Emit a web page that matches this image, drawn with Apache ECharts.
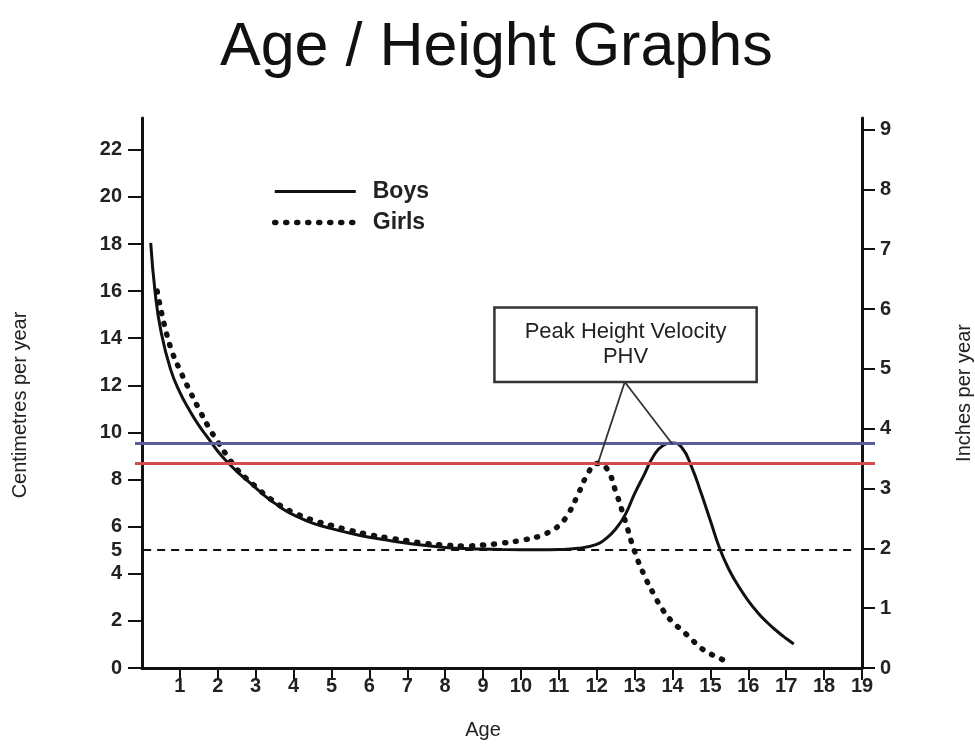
<!DOCTYPE html>
<html><head><meta charset="utf-8">
<script src="https://cdn.jsdelivr.net/npm/echarts@6/dist/echarts.min.js"></script>
<style>html,body{margin:0;padding:0;background:#fff}#c{width:975px;height:745px}</style>
</head><body><div id="c"></div>
<script>
// ---- data ----
const chartTitle = 'Age / Height Graphs';
const xTicks = [1,2,3,4,5,6,7,8,9,10,11,12,13,14,15,16,17,18,19];
const cmTicks = [0,2,4,6,8,10,12,14,16,18,20,22];
const cmLabels = [0,2,4,5,6,8,10,12,14,16,18,20,22];
const inchTicks = [0,1,2,3,4,5,6,7,8,9];
const boysAge = [0.23,0.35,0.5,0.75,1.0,1.25,1.5,1.75,2.0,2.25,2.5,2.75,3.0,3.25,3.5,3.75,4.0,4.5,5.0,5.5,6.0,6.5,7.0,7.5,8.0,8.5,9.0,9.5,10.0,10.5,11.0,11.5,12.0,12.25,12.5,12.75,13.0,13.25,13.5,13.75,14.0,14.25,14.5,14.75,15.0,15.25,15.5,15.75,16.0,16.25,16.5,16.75,17.0,17.2];
const boysCm  = [18.05,15.9,14.3,12.7,11.7,10.95,10.3,9.75,9.2,8.75,8.35,8.0,7.65,7.3,7.0,6.72,6.5,6.15,5.92,5.72,5.55,5.42,5.3,5.2,5.12,5.07,5.05,5.03,5.02,5.02,5.03,5.08,5.25,5.5,5.9,6.5,7.4,8.2,9.0,9.45,9.55,9.35,8.55,7.45,6.25,5.05,4.15,3.45,2.85,2.35,1.93,1.57,1.25,1.02];
const girlsAge = [0.4,0.6,0.8,1.0,1.25,1.5,1.75,2.0,2.25,2.5,2.75,3.0,3.25,3.5,3.75,4.0,4.5,5.0,5.5,6.0,6.5,7.0,7.5,8.0,8.5,9.0,9.5,10.0,10.5,10.75,11.0,11.25,11.5,11.75,12.0,12.25,12.5,12.75,13.0,13.25,13.5,13.75,14.0,14.25,14.5,14.75,15.0,15.25,15.5];
const girlsCm  = [16.0,14.5,13.4,12.65,11.8,11.0,10.25,9.6,9.0,8.45,8.05,7.7,7.35,7.05,6.8,6.6,6.28,6.05,5.84,5.66,5.52,5.4,5.28,5.22,5.18,5.22,5.3,5.42,5.6,5.78,6.05,6.55,7.35,8.2,8.68,8.5,7.5,6.25,4.95,3.95,3.15,2.45,1.95,1.6,1.22,0.85,0.6,0.42,0.15];
const blueLineCm = 9.55;
const redLineCm = 8.7;
const dashedLineCm = 5;
const dashedLineAge = [0.03, 18.8];
const phvBoxAge = [9.3, 16.22];
const phvBoxCm = [12.14, 15.3];
const phvLabel = 'Peak Height Velocity\nPHV';
const phvAnchor = [12.74, 12.14];
const phvGirlsPeak = [12.03, 8.68];
const phvBoysPeak = [14.0, 9.5];

const cmMax = 23.35;
const font = 'Liberation Sans, Arial, sans-serif';

const zip = (a, b) => a.map((v, i) => [v, b[i]]);

const chart = echarts.init(document.getElementById('c'), null, {renderer: 'canvas'});
chart.setOption({
  animation: false,
  backgroundColor: '#fff',
  title: {
    text: chartTitle, left: 215, top: 13,
    textStyle: {fontFamily: font, fontSize: 61, fontWeight: 'normal', color: '#111'}
  },
  legend: {
    orient: 'vertical', left: 267, top: 175,
    itemWidth: 81, itemHeight: 14, itemGap: 8,
    itemStyle: {color: 'rgba(0,0,0,0)', borderWidth: 0, opacity: 0},
    data: [
      {name: 'Boys', lineStyle: {color: '#111', width: 3, type: 'solid'}},
      {name: 'Girls', lineStyle: {color: '#111', width: 5.5, type: [1, 10], cap: 'round'}}
    ],
    textStyle: {fontFamily: font, fontSize: 23, fontWeight: 'bold', color: '#222', padding: [0, 0, 0, 12]}
  },
  grid: [
    {left: 142, right: 113, top: 118, bottom: 77, outerBoundsMode: 'none'},
    {left: 135, right: 100, top: 118, bottom: 77, outerBoundsMode: 'none'}
  ],
  xAxis: [{
    type: 'value', min: 0, max: 19, interval: 1, gridIndex: 0,
    name: 'Age', nameLocation: 'middle', nameGap: 52,
    nameTextStyle: {fontFamily: font, fontSize: 20, color: '#222', padding: [0, 38, 0, 0]},
    axisLine: {show: true, lineStyle: {color: '#111', width: 3}},
    axisTick: {show: true, customValues: xTicks, length: 12, lineStyle: {color: '#111', width: 2}},
    axisLabel: {customValues: xTicks, fontFamily: font, fontSize: 20, fontWeight: 'bold', color: '#222', margin: 8},
    splitLine: {show: false}
  }, {
    type: 'value', min: 0, max: 1, gridIndex: 1, show: false
  }],
  yAxis: [{
    type: 'value', min: 0, max: cmMax, position: 'left', gridIndex: 0,
    name: 'Centimetres per year', nameLocation: 'middle', nameGap: 112,
    nameTextStyle: {fontFamily: font, fontSize: 20, color: '#222', padding: [0, 24, 0, 0]},
    axisLine: {show: true, lineStyle: {color: '#111', width: 3}},
    axisTick: {show: true, customValues: cmTicks, length: 14, lineStyle: {color: '#111', width: 2}},
    axisLabel: {customValues: cmLabels, fontFamily: font, fontSize: 20, fontWeight: 'bold', color: '#222', margin: 20},
    splitLine: {show: false}
  }, {
    type: 'value', min: 0, max: cmMax / 2.54, position: 'right', gridIndex: 0,
    name: 'Inches per year', nameLocation: 'middle', nameGap: 92, nameRotate: 90,
    nameTextStyle: {fontFamily: font, fontSize: 20, color: '#222'},
    axisLine: {show: true, lineStyle: {color: '#111', width: 3}},
    axisTick: {show: true, customValues: inchTicks, length: 13, lineStyle: {color: '#111', width: 2}},
    axisLabel: {customValues: inchTicks, fontFamily: font, fontSize: 20, fontWeight: 'bold', color: '#222', margin: 18},
    splitLine: {show: false}
  }, {
    type: 'value', min: 0, max: cmMax, gridIndex: 1, show: false
  }],
  series: [{
    name: 'refLines', type: 'line', data: [], xAxisIndex: 1, yAxisIndex: 2, silent: true,
    markLine: {
      silent: true, symbol: 'none', label: {show: false},
      data: [
        {yAxis: blueLineCm, lineStyle: {color: '#5a5c9c', width: 3, type: 'solid'}},
        {yAxis: redLineCm, lineStyle: {color: '#d44b4b', width: 3, type: 'solid'}}
      ]
    }
  }, {
    name: 'annotations', type: 'line', data: [], clip: false, silent: true,
    markLine: {
      silent: true, symbol: 'none', label: {show: false},
      data: [
        [{coord: [dashedLineAge[0], dashedLineCm], lineStyle: {color: '#111', width: 2, type: [8, 6]}}, {coord: [dashedLineAge[1], dashedLineCm]}],
        [{coord: phvAnchor, lineStyle: {color: '#333', width: 1.8, type: 'solid'}}, {coord: phvGirlsPeak}],
        [{coord: phvAnchor, lineStyle: {color: '#333', width: 1.8, type: 'solid'}}, {coord: phvBoysPeak}]
      ]
    },
    markArea: {
      silent: true,
      itemStyle: {color: '#fff', borderColor: '#333', borderWidth: 2.5},
      label: {show: true, position: 'inside', formatter: phvLabel, fontFamily: font, fontSize: 22, color: '#222', lineHeight: 25},
      data: [[{coord: [phvBoxAge[0], phvBoxCm[1]]}, {coord: [phvBoxAge[1], phvBoxCm[0]]}]]
    }
  }, {
    name: 'Boys', type: 'line', data: zip(boysAge, boysCm), symbol: 'none', showSymbol: false,
    smooth: 0.5,
    lineStyle: {color: '#111', width: 3}, itemStyle: {color: '#111'}
  }, {
    name: 'Girls', type: 'line', data: zip(girlsAge, girlsCm), symbol: 'none', showSymbol: false,
    smooth: 0.5,
    lineStyle: {color: '#111', width: 5.5, type: [1, 10], cap: 'round'}, itemStyle: {color: '#111'}
  }]
});
</script></body></html>
